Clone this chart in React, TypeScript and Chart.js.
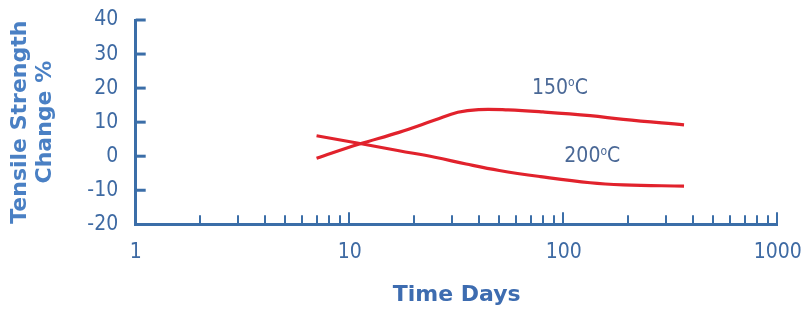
import React, { useEffect, useRef } from 'react';
import { Chart, registerables } from 'chart.js';

Chart.register(...registerables);

// ---- data ----
const days150 = [7, 11, 17, 25, 32, 40, 55, 80, 133, 190, 365];
const values150 = [-0.6, 3.5, 7.0, 10.6, 12.9, 13.7, 13.6, 13.0, 11.9, 10.8, 9.2];
const days200 = [7, 11, 17, 25, 35, 50, 78, 133, 190, 365];
const values200 = [6.0, 3.8, 1.6, -0.3, -2.3, -4.2, -6.0, -7.8, -8.4, -8.8];

const xTickLabels = [1, 10, 100, 1000];
const xMinorTicks = [2, 3, 4, 5, 6, 7, 8, 9, 20, 30, 40, 50, 60, 70, 80, 90, 200, 300, 400, 500, 600, 700, 800, 900];
const yTickValues = [-20, -10, 0, 10, 20, 30, 40];

const seriesNames = ['150', '200'];
const seriesLabelDays = [96, 136];
const seriesLabelValues = [20, -0.1];

const yTitle = ['Tensile Strength', 'Change %'];
const xTitle = 'Time Days';

// ---- styles ----
const AXIS = '#3b6ea8';
const TICK_TEXT = '#3e6aa3';
const RED = '#e1222c';
const FONT = "'DejaVu Sans Condensed', 'DejaVu Sans', sans-serif";
const BOLD_FONT = "'DejaVu Sans', sans-serif";

const tickPlugin = {
  id: 'insideTicks',
  afterDatasetsDraw(chart: any) {
    const { ctx, chartArea, scales } = chart;
    const xs = scales.x;
    const ys = scales.y;
    ctx.save();
    ctx.strokeStyle = AXIS;
    ctx.lineCap = 'butt';
    ctx.lineWidth = 2;
    const yb = chartArea.bottom;
    xMinorTicks.forEach((v) => {
      const px = Math.round(xs.getPixelForValue(v));
      ctx.beginPath();
      ctx.moveTo(px, yb);
      ctx.lineTo(px, yb - 9);
      ctx.stroke();
    });
    xTickLabels.slice(1).forEach((v) => {
      const px = Math.round(xs.getPixelForValue(v)) - 1;
      ctx.beginPath();
      ctx.moveTo(px, yb);
      ctx.lineTo(px, yb - 12);
      ctx.stroke();
    });
    ctx.lineWidth = 3;
    yTickValues.forEach((v) => {
      if (v === yTickValues[0]) return;
      const py = ys.getPixelForValue(v);
      ctx.beginPath();
      ctx.moveTo(chartArea.left, py);
      ctx.lineTo(chartArea.left + 10, py);
      ctx.stroke();
    });
    ctx.fillStyle = '#4a6896';
    ctx.textBaseline = 'middle';
    ctx.textAlign = 'left';
    seriesNames.forEach((name, i) => {
      const cx = xs.getPixelForValue(seriesLabelDays[i]);
      const cy = ys.getPixelForValue(seriesLabelValues[i]);
      ctx.font = `21px ${FONT}`;
      const w1 = ctx.measureText(name).width;
      const wC = ctx.measureText('C').width;
      ctx.font = `12px ${FONT}`;
      const wo = ctx.measureText('o').width;
      const total = w1 + wo + wC;
      let x = cx - total / 2;
      ctx.font = `21px ${FONT}`;
      ctx.fillText(name, x, cy);
      x += w1;
      ctx.font = `12px ${FONT}`;
      ctx.fillText('o', x, cy - 5);
      x += wo;
      ctx.font = `21px ${FONT}`;
      ctx.fillText('C', x, cy);
    });
    ctx.restore();
  },
};

export default function App() {
  const canvasRef = useRef<HTMLCanvasElement | null>(null);

  useEffect(() => {
    const canvas = canvasRef.current;
    if (!canvas) return;
    const chart = new Chart(canvas, {
      type: 'line',
      data: {
        datasets: [
          {
            label: '150°C',
            data: days150.map((d, i) => ({ x: d, y: values150[i] })),
            borderColor: RED,
            borderWidth: 3.2,
            pointRadius: 0,
            tension: 0.4,
            fill: false,
          },
          {
            label: '200°C',
            data: days200.map((d, i) => ({ x: d, y: values200[i] })),
            borderColor: RED,
            borderWidth: 3.2,
            pointRadius: 0,
            tension: 0.4,
            fill: false,
          },
        ],
      },
      options: {
        responsive: false,
        animation: false,
        devicePixelRatio: 1,
        events: [],
        layout: { padding: { left: 0, right: 27.3, top: 20, bottom: 0 } },
        plugins: { legend: { display: false }, tooltip: { enabled: false } },
        scales: {
          x: {
            type: 'logarithmic',
            min: 1,
            max: 1000,
            grid: { display: false },
            border: { display: true, color: AXIS, width: 3 },
            afterBuildTicks: (scale: any) => {
              scale.ticks = xTickLabels.map((v) => ({ value: v }));
            },
            afterFit: (scale: any) => {
              scale.height = 316 - 224.3;
              scale.paddingLeft = 0;
              scale.paddingRight = 0;
            },
            ticks: {
              autoSkip: false,
              maxRotation: 0,
              color: TICK_TEXT,
              padding: 7.6,
              font: { family: FONT, size: 21 },
              callback: (v: any) => String(v),
            },
            title: {
              display: true,
              text: xTitle,
              color: '#3d6cb0',
              font: { family: BOLD_FONT, size: 22, weight: 'bold', lineHeight: 1.2 },
              padding: { top: 0, bottom: 7.8 },
            },
          },
          y: {
            type: 'linear',
            min: -20,
            max: 40,
            grid: { display: false },
            border: { display: true, color: AXIS, width: 3 },
            afterFit: (scale: any) => {
              scale.width = 135.7;
              scale.paddingTop = 0;
              scale.paddingBottom = 0;
            },
            ticks: {
              stepSize: 10,
              color: TICK_TEXT,
              padding: 9.5,
              font: { family: FONT, size: 21 },
            },
            title: {
              display: true,
              text: yTitle,
              color: '#4a80c4',
              font: { family: BOLD_FONT, size: 22, weight: 'bold', lineHeight: 1.14 },
              padding: { top: 7.9, bottom: 0 },
            },
          },
        },
      },
      plugins: [tickPlugin],
    } as any);
    return () => chart.destroy();
  }, []);

  return (
    <div style={{ position: 'absolute', left: 0, top: 0, width: 805, height: 316, background: '#fff' }}>
      <canvas ref={canvasRef} width={805} height={316} style={{ display: 'block', width: 805, height: 316 }} />
    </div>
  );
}
